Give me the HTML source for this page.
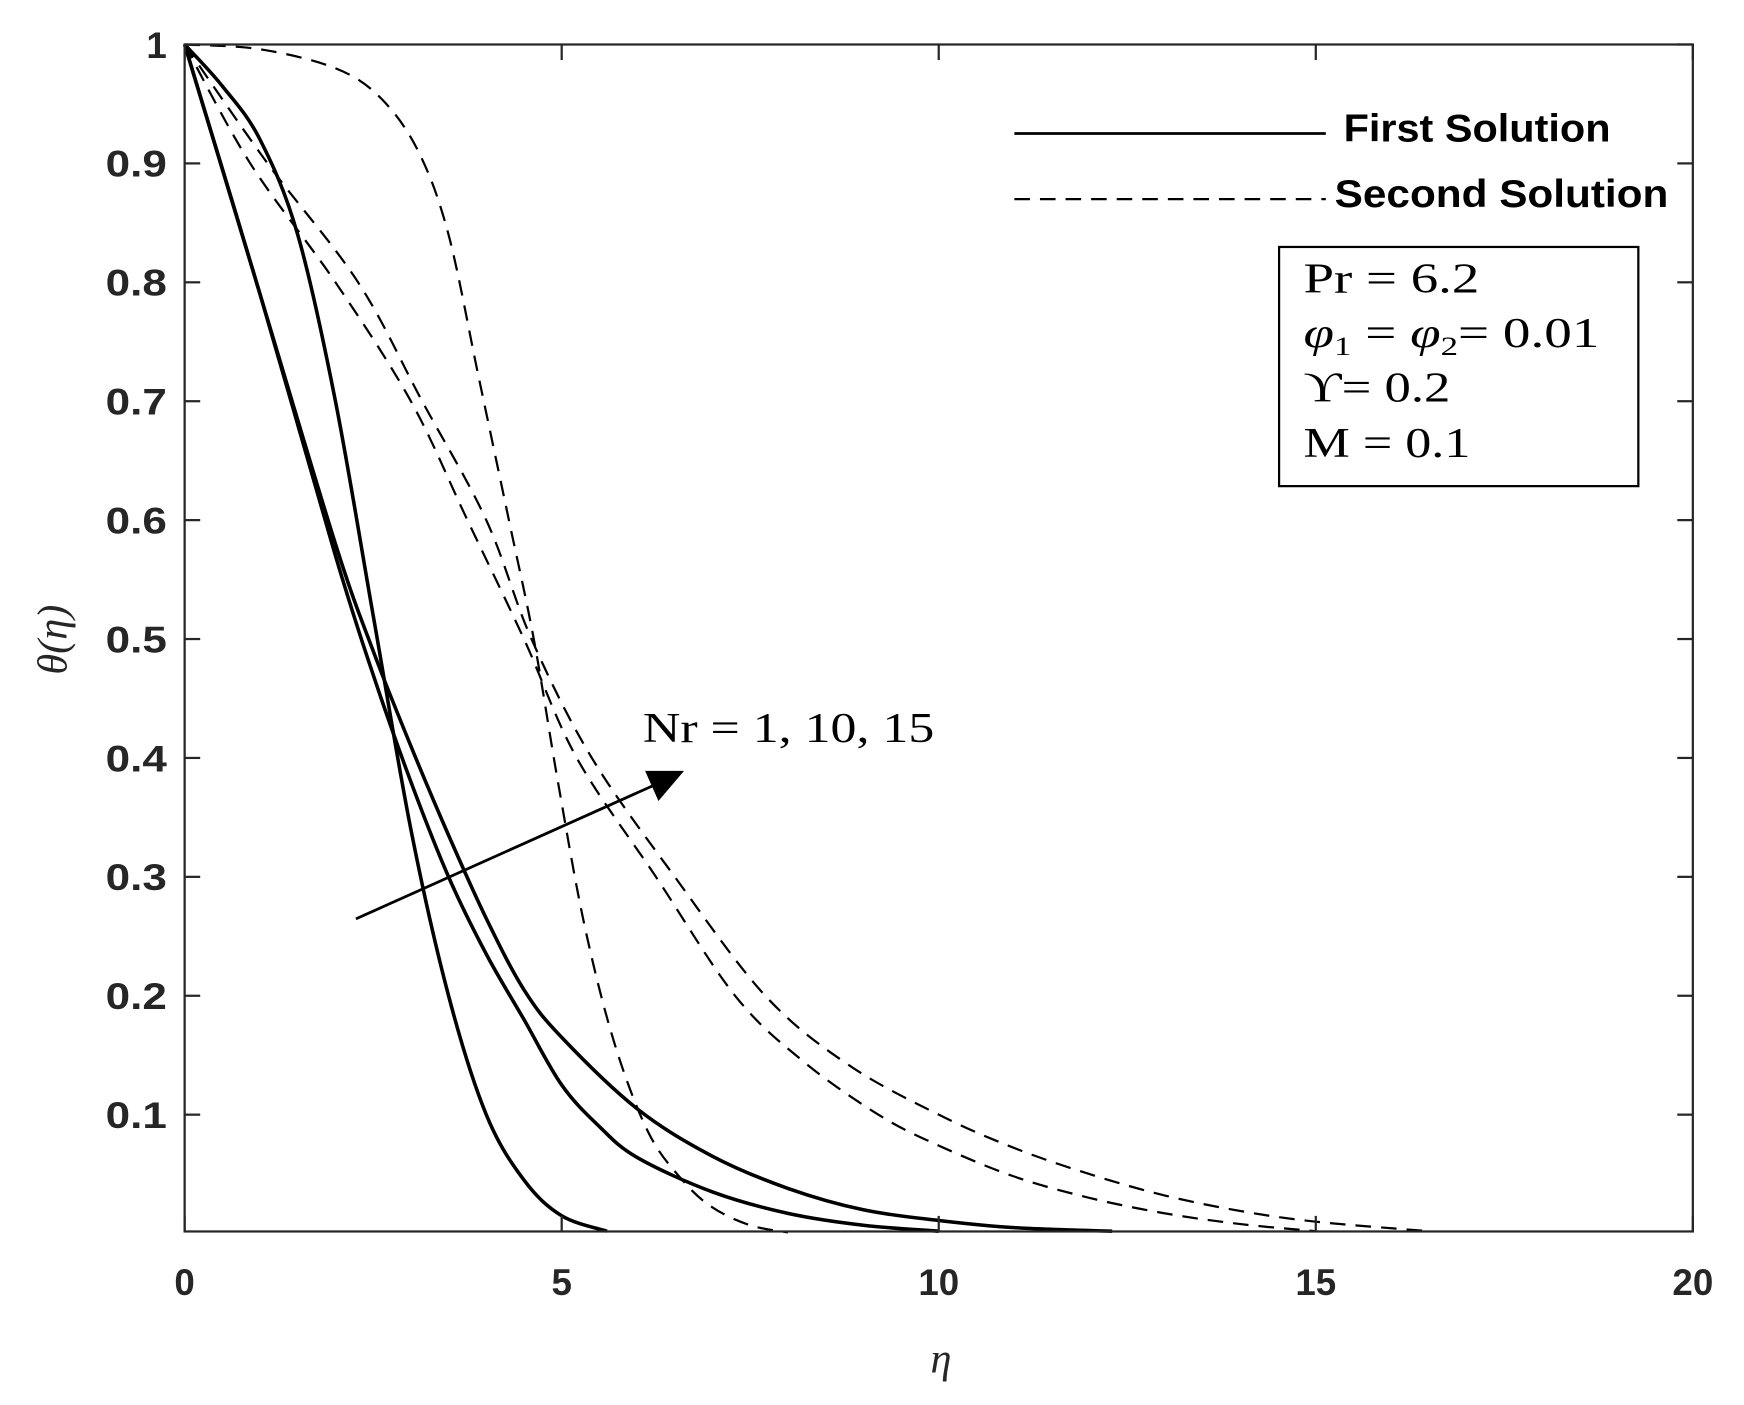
<!DOCTYPE html>
<html><head><style>html,body{margin:0;padding:0;background:#fff}svg{display:block}</style></head>
<body>
<svg id="s" width="1744" height="1405" viewBox="0 0 1568 1263" preserveAspectRatio="none" xmlns="http://www.w3.org/2000/svg">
<rect x="0" y="0" width="1568" height="1263" fill="#fff"/>
<g id="curves"></g>
<rect x="166" y="40" width="1356" height="1067" fill="none" stroke="#262626" stroke-width="2"/>
<g id="ticks" stroke="#262626" stroke-width="2"></g>
<g font-family="Liberation Sans, Arial, sans-serif" font-size="33" font-weight="bold" fill="#262626" id="labels"></g>
<text x="846" y="1234" font-family="Liberation Serif, serif" font-style="italic" font-size="38" text-anchor="middle" fill="#262626">η</text>
<text transform="translate(60,575) rotate(-90)" font-family="Liberation Serif, serif" font-style="italic" font-size="38" text-anchor="middle" fill="#262626">θ(η)</text>
<line x1="912" y1="120" x2="1192" y2="120" stroke="#000" stroke-width="2.5"/>
<line x1="912" y1="179" x2="1192" y2="179" stroke="#000" stroke-width="2" stroke-dasharray="14,9"/>
<text x="1208" y="127" font-family="Liberation Sans, Arial, sans-serif" font-size="35" font-weight="bold" textLength="240" lengthAdjust="spacingAndGlyphs">First Solution</text>
<text x="1200" y="186" font-family="Liberation Sans, Arial, sans-serif" font-size="35" font-weight="bold" textLength="300" lengthAdjust="spacingAndGlyphs">Second Solution</text>
<rect x="1150" y="222" width="323" height="215" fill="#fff" stroke="#000" stroke-width="2"/>
<g font-family="Liberation Serif, serif" font-size="38">
<text x="1172" y="263" textLength="158" lengthAdjust="spacingAndGlyphs">Pr = 6.2</text>
<text x="1172" y="312" textLength="266" lengthAdjust="spacingAndGlyphs"><tspan font-style="italic">φ</tspan><tspan font-size="24" dy="7">1</tspan><tspan dy="-7"> = </tspan><tspan font-style="italic">φ</tspan><tspan font-size="24" dy="7">2</tspan><tspan dy="-7">= 0.01</tspan></text>
<text x="1172" y="361" textLength="132" lengthAdjust="spacingAndGlyphs">ϒ= 0.2</text>
<text x="1172" y="411" textLength="150" lengthAdjust="spacingAndGlyphs">M = 0.1</text>
<text x="578" y="667" textLength="262" lengthAdjust="spacingAndGlyphs">Nr = 1, 10, 15</text>
</g>
<line x1="320" y1="826" x2="590" y2="705" stroke="#000" stroke-width="2.5"/>
<polygon points="615,693 580,693 592,720" fill="#000"/>
</svg>
<script>
var X=function(v){return 166+v*67.8},Y=function(v){return 1108.9-v*1068.9};
function cr(p){var d="M"+X(p[0][0])+","+Y(p[0][1]);for(var i=0;i<p.length-1;i++){var p0=p[i-1]||p[i],p1=p[i],p2=p[i+1],p3=p[i+2]||p2;
var a=[X(p1[0])+(X(p2[0])-X(p0[0]))/6,Y(p1[1])+(Y(p2[1])-Y(p0[1]))/6],b=[X(p2[0])-(X(p3[0])-X(p1[0]))/6,Y(p2[1])-(Y(p3[1])-Y(p1[1]))/6];
d+="C"+a+" "+b+" "+X(p2[0])+","+Y(p2[1]);}return d;}
var S=[
[[0,1],[0.5,0.965],[1,0.92],[1.5,0.84],[2,0.7],[2.5,0.52],[3,0.34],[3.5,0.2],[4,0.1],[4.5,0.045],[5,0.015],[5.6,0.002]],
[[0,1],[1,0.79],[2,0.57],[2.5,0.47],[3,0.38],[3.5,0.3],[4,0.235],[4.5,0.18],[5,0.125],[5.5,0.09],[6,0.064],[7,0.035],[8,0.017],[9,0.007],[10,0.002]],
[[0,1],[1,0.79],[2,0.58],[2.5,0.49],[3,0.41],[3.5,0.335],[4,0.265],[4.5,0.205],[5,0.165],[6,0.105],[7,0.065],[8,0.038],[9,0.02],[10,0.011],[11,0.005],[12.3,0.002]]];
var D=[
[[0,1],[1,0.996],[2,0.98],[2.6,0.955],[3.1,0.91],[3.5,0.84],[3.9,0.72],[4.3,0.6],[4.63,0.5],[4.95,0.38],[5.3,0.26],[5.7,0.16],[6.15,0.085],[6.6,0.045],[7,0.022],[7.5,0.007],[8,0.001]],
[[0,1],[0.87,0.9],[2,0.8],[3,0.7],[3.75,0.6],[4.5,0.5],[5.2,0.4],[6.25,0.3],[7.3,0.2],[8.2,0.145],[9.2,0.1],[10,0.074],[11,0.048],[12,0.03],[13,0.017],[14,0.008],[15,0.002]],
[[0,1],[1.1,0.9],[2.3,0.8],[3.15,0.7],[4,0.6],[4.6,0.5],[5.4,0.4],[6.5,0.3],[7.7,0.2],[8.8,0.142],[10,0.1],[11,0.072],[12,0.05],[13,0.032],[14,0.019],[15,0.01],[16.5,0.002]]];
var g=document.getElementById('curves'),h="";
S.forEach(function(p){h+='<path d="'+cr(p)+'" fill="none" stroke="#000" stroke-width="3.2"/>'});
D.forEach(function(p){h+='<path d="'+cr(p)+'" fill="none" stroke="#000" stroke-width="2" stroke-dasharray="14,9"/>'});
g.innerHTML=h;
var t="",l="";
for(var i=0;i<=4;i++){var x=X(i*5);t+='<line x1="'+x+'" y1="1107" x2="'+x+'" y2="1093"/><line x1="'+x+'" y1="40" x2="'+x+'" y2="54"/>';l+='<text x="'+x+'" y="1164" text-anchor="middle">'+(i*5)+'</text>';}
for(var j=1;j<=10;j++){var y=Y(j/10);t+='<line x1="166" y1="'+y+'" x2="180" y2="'+y+'"/><line x1="1522" y1="'+y+'" x2="1508" y2="'+y+'"/>';var s=(j==10?'1':(j/10).toFixed(1));l+='<text x="150" y="'+(y+12)+'" text-anchor="end"'+(j<10?' textLength="55" lengthAdjust="spacingAndGlyphs"':'')+'>'+s+'</text>';}
document.getElementById('ticks').innerHTML=t;document.getElementById('labels').innerHTML=l;
</script>
</body></html>
